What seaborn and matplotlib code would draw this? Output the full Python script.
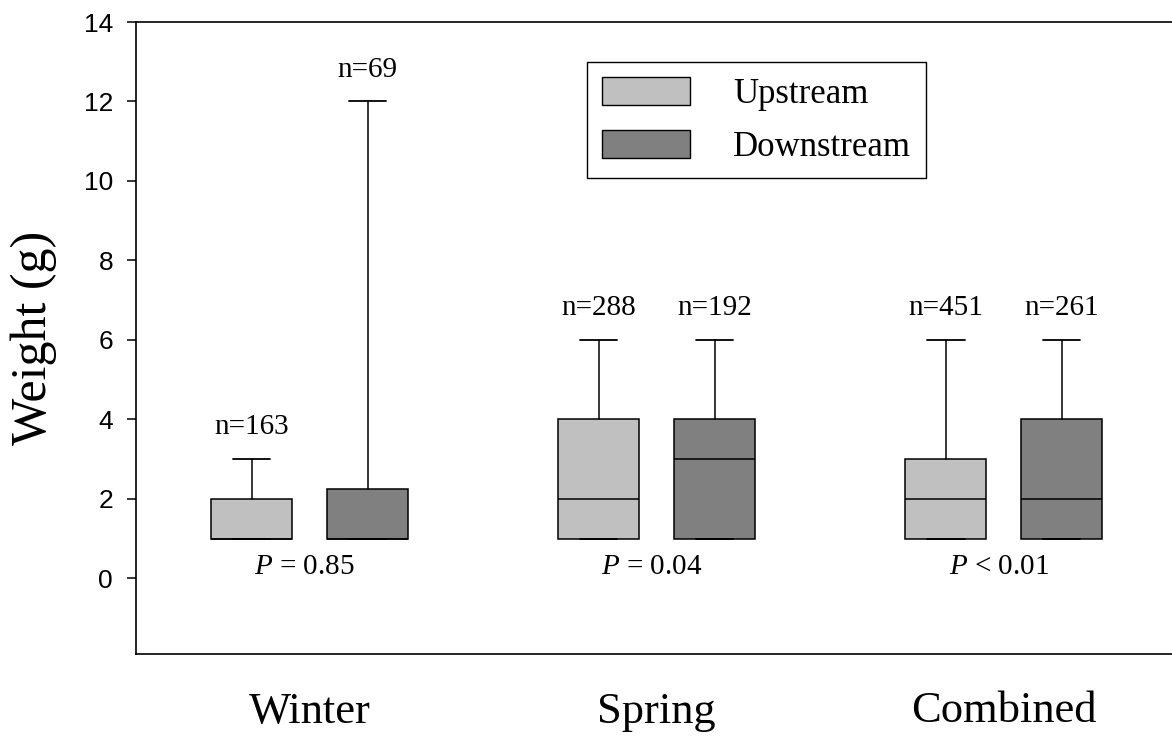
import matplotlib
matplotlib.use("Agg")
import matplotlib.pyplot as plt
import seaborn as sns
from matplotlib.patches import Patch

# data (one entry per season, [upstream, downstream])
seasons = ['Winter', 'Spring', 'Combined']
sites = ['Upstream', 'Downstream']
site_colors = ['#c0c0c0', '#808080']

q1 = [[1, 1], [1, 1], [1, 1]]
medians = [[1, 1], [2, 3], [2, 2]]
q3 = [[2, 2.25], [4, 4], [3, 4]]
whisk_lo = [[1, 1], [1, 1], [1, 1]]
whisk_hi = [[3, 12], [6, 6], [6, 6]]
n_fish = [[163, 69], [288, 192], [451, 261]]
p_labels = ['$\\it{P}$ = 0.85', '$\\it{P}$ = 0.04', '$\\it{P}$ < 0.01']

sns.set_style("ticks")
plt.rcParams['font.family'] = ['Liberation Serif', 'DejaVu Serif']
plt.rcParams['mathtext.fontset'] = 'custom'
plt.rcParams['mathtext.rm'] = 'Liberation Serif'
plt.rcParams['mathtext.it'] = 'Liberation Serif:italic'
for k in ['text.color', 'axes.labelcolor', 'xtick.color', 'ytick.color', 'axes.edgecolor']:
    plt.rcParams[k] = 'black'

fig = plt.figure(figsize=(11.72, 7.36), dpi=100)
ax = fig.add_axes([136 / 1172, 1 - 654 / 736, (1177.5 - 136) / 1172, (654 - 22) / 736])

offset = 0.167
box_w = 0.233
for j, site in enumerate(sites):
    stats = []
    for i in range(len(seasons)):
        stats.append(dict(q1=q1[i][j], med=medians[i][j], q3=q3[i][j],
                          whislo=whisk_lo[i][j], whishi=whisk_hi[i][j], fliers=[]))
    pos = [i + (2 * j - 1) * offset for i in range(len(seasons))]
    ax.bxp(stats, positions=pos, widths=box_w, patch_artist=True, showfliers=False,
           capwidths=0.107, manage_ticks=False,
           boxprops=dict(facecolor=site_colors[j], edgecolor='black', linewidth=1.1),
           medianprops=dict(color='black', linewidth=1.1),
           whiskerprops=dict(color='black', linewidth=1.1),
           capprops=dict(color='black', linewidth=1.3))
    for i in range(len(seasons)):
        ax.text(pos[i], whisk_hi[i][j] + 0.8, 'n=%d' % n_fish[i][j],
                ha='center', va='center', fontsize=21)

for i, txt in enumerate(p_labels):
    ax.text(i - 0.015, 0.3, txt, ha='center', va='center', fontsize=21)

ax.set_xlim(-0.5, 2.5)
ax.set_ylim(-1.9, 14)
ax.set_yticks(range(0, 15, 2))
ax.set_xticks(range(len(seasons)))
ax.set_xticklabels(seasons, fontsize=32)
ax.tick_params(axis='x', length=0, pad=27)
ax.tick_params(axis='y', length=6.5, width=1.1, pad=10)
for lab in ax.get_yticklabels():
    lab.set_fontfamily(['Liberation Sans', 'DejaVu Sans'])
    lab.set_fontsize(19)
ax.set_ylabel('Weight (g)', fontsize=36, labelpad=19)
for sp in ax.spines.values():
    sp.set_linewidth(1.2)

handles = [Patch(facecolor=c, edgecolor='black', linewidth=1) for c in site_colors]
leg = fig.legend(handles, sites, loc='upper left', bbox_to_anchor=(587 / 1172, 1 - 62 / 736),
                 bbox_transform=fig.transFigure, borderaxespad=0, fontsize=25,
                 handlelength=2.54, handleheight=0.87, handletextpad=1.25,
                 labelspacing=0.55, borderpad=0.42, fancybox=False, framealpha=1,
                 edgecolor='black')
leg.get_frame().set_linewidth(1.0)

fig.savefig('out.png', dpi=100)
